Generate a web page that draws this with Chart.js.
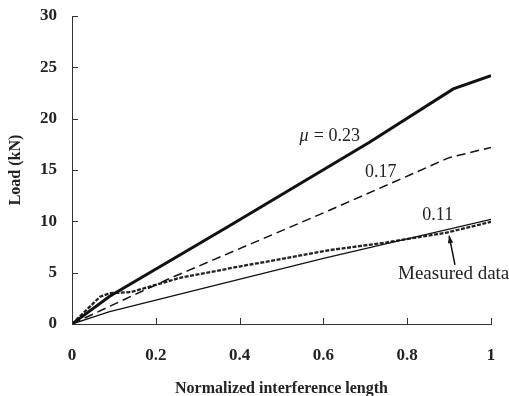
<!DOCTYPE html>
<html>
<head>
<meta charset="utf-8">
<script src="https://cdn.jsdelivr.net/npm/chart.js@4"></script>
<style>
 html, body { margin: 0; padding: 0; background: #fff; }
 #wrap { width: 509px; height: 396px; }
</style>
</head>
<body>
<div id="wrap"><canvas id="loadChart"></canvas></div>
<script>
// curves (x = normalized interference length, y = load in kN)
const xMu023 = [0, 0.09, 0.377, 0.71, 0.91, 1];
const loadMu023 = [0, 2.7, 9.6, 17.7, 22.9, 24.2];

const xMu017 = [0, 0.12, 0.234, 0.616, 0.9, 1];
const loadMu017 = [0, 2.3, 4.45, 11.1, 16.2, 17.2];

const xMu011 = [0, 0.09, 0.6, 1];
const loadMu011 = [0, 1.2, 6.4, 10.2];

const xMeasured = [0, 0.067, 0.09, 0.14, 0.258, 0.4, 0.616, 0.751, 0.894, 1];
const loadMeasured = [0, 2.66, 3.0, 3.1, 4.5, 5.6, 7.2, 7.95, 8.9, 9.95];

const xTicks = [0, 0.2, 0.4, 0.6, 0.8, 1];
const yTicks = [0, 5, 10, 15, 20, 25, 30];

const serif = "'Liberation Serif', 'Times New Roman', serif";

function toPoints(xs, ys) {
 return xs.map((x, i) => ({ x: x, y: ys[i] }));
}

// tick marks pointing into the plot, plus the curve labels
const innerTicks = {
 id: "innerTicks",
 afterDraw(chart) {
  const ctx = chart.ctx;
  const xs = chart.scales.x;
  const ys = chart.scales.y;
  const area = chart.chartArea;
  ctx.save();
  ctx.strokeStyle = "#333";
  ctx.lineWidth = 1;
  ctx.beginPath();
  xTicks.forEach((v) => {
   const px = Math.round(xs.getPixelForValue(v)) + 0.5;
   ctx.moveTo(px, area.bottom);
   ctx.lineTo(px, area.bottom - 6);
  });
  yTicks.forEach((v) => {
   const py = Math.round(ys.getPixelForValue(v)) + 0.5;
   ctx.moveTo(area.left, py);
   ctx.lineTo(area.left + 6, py);
  });
  ctx.stroke();

  ctx.fillStyle = "#222";
  ctx.textBaseline = "middle";
  ctx.textAlign = "center";
  const mx = xs.getPixelForValue(0.618);
  const my = ys.getPixelForValue(18.3);
  ctx.font = "italic 18px " + serif;
  ctx.fillText("\u03bc", mx - 27, my);
  ctx.font = "18px " + serif;
  ctx.fillText("= 0.23", mx + 6, my);
  ctx.fillText("0.17", xs.getPixelForValue(0.737), ys.getPixelForValue(14.8));
  ctx.fillText("0.11", xs.getPixelForValue(0.873), ys.getPixelForValue(10.6));
  ctx.textAlign = "left";
  ctx.font = "19px " + serif;
  ctx.fillText("Measured data", xs.getPixelForValue(0.778), ys.getPixelForValue(4.9));

  // arrow to the measured curve
  const ax0 = xs.getPixelForValue(0.914), ay0 = ys.getPixelForValue(5.75);
  const ax1 = xs.getPixelForValue(0.9), ay1 = ys.getPixelForValue(8.6);
  ctx.strokeStyle = "#111";
  ctx.lineWidth = 1.5;
  ctx.beginPath();
  ctx.moveTo(ax0, ay0);
  ctx.lineTo(ax1, ay1);
  ctx.stroke();
  const ang = Math.atan2(ay1 - ay0, ax1 - ax0);
  ctx.beginPath();
  ctx.moveTo(ax1, ay1);
  ctx.lineTo(ax1 - 8 * Math.cos(ang - 0.35), ay1 - 8 * Math.sin(ang - 0.35));
  ctx.lineTo(ax1 - 8 * Math.cos(ang + 0.35), ay1 - 8 * Math.sin(ang + 0.35));
  ctx.closePath();
  ctx.fillStyle = "#111";
  ctx.fill();
  ctx.restore();
 },
};

const lineBase = {
 pointRadius: 0,
 tension: 0,
 fill: false,
 borderColor: "#111",
};

new Chart(document.getElementById("loadChart"), {
 type: "line",
 data: {
  datasets: [
   Object.assign({}, lineBase, {
    label: "\u03bc = 0.23",
    data: toPoints(xMu023, loadMu023),
    borderWidth: 3,
   }),
   Object.assign({}, lineBase, {
    label: "0.17",
    data: toPoints(xMu017, loadMu017),
    borderWidth: 1.5,
    borderDash: [9, 5],
   }),
   Object.assign({}, lineBase, {
    label: "0.11",
    data: toPoints(xMu011, loadMu011),
    borderWidth: 1.3,
   }),
   Object.assign({}, lineBase, {
    label: "Measured data",
    data: toPoints(xMeasured, loadMeasured),
    borderWidth: 2.3,
    borderDash: [4, 1.5],
    borderColor: "#222",
   }),
  ],
 },
 options: {
  responsive: true,
  maintainAspectRatio: false,
  animation: false,
  layout: { padding: { top: 16, right: 18, left: 0, bottom: 0 } },
  plugins: {
   legend: { display: false },
   tooltip: { enabled: false },
  },
  scales: {
   x: {
    type: "linear",
    min: 0,
    max: 1,
    afterFit(scale) {
     scale.height = 72;
     scale.paddingLeft = 0;
     scale.paddingRight = 0;
    },
    afterBuildTicks(scale) { scale.ticks = xTicks.map((v) => ({ value: v })); },
    border: { display: true, color: "#333", width: 1 },
    grid: { display: false, drawTicks: false },
    ticks: {
     padding: 21,
     color: "#222",
     font: { family: serif, size: 17, weight: "bold" },
     callback: (v) => String(v),
    },
    title: {
     display: true,
     text: "Normalized interference length",
     color: "#222",
     font: { family: serif, size: 16, weight: "bold" },
     padding: { top: 0, bottom: -2 },
    },
   },
   y: {
    min: 0,
    max: 30,
    afterFit(scale) {
     scale.width = 72;
     scale.paddingTop = 0;
     scale.paddingBottom = 0;
    },
    afterBuildTicks(scale) { scale.ticks = yTicks.map((v) => ({ value: v })); },
    border: { display: true, color: "#333", width: 1 },
    grid: { display: false, drawTicks: false },
    ticks: {
     padding: 15,
     color: "#222",
     font: { family: serif, size: 17, weight: "bold" },
    },
    title: {
     display: true,
     text: "Load (kN)",
     color: "#222",
     font: { family: serif, size: 16, weight: "bold" },
     padding: { top: 6, bottom: 0 },
    },
   },
  },
 },
 plugins: [innerTicks],
});
</script>
</body>
</html>
